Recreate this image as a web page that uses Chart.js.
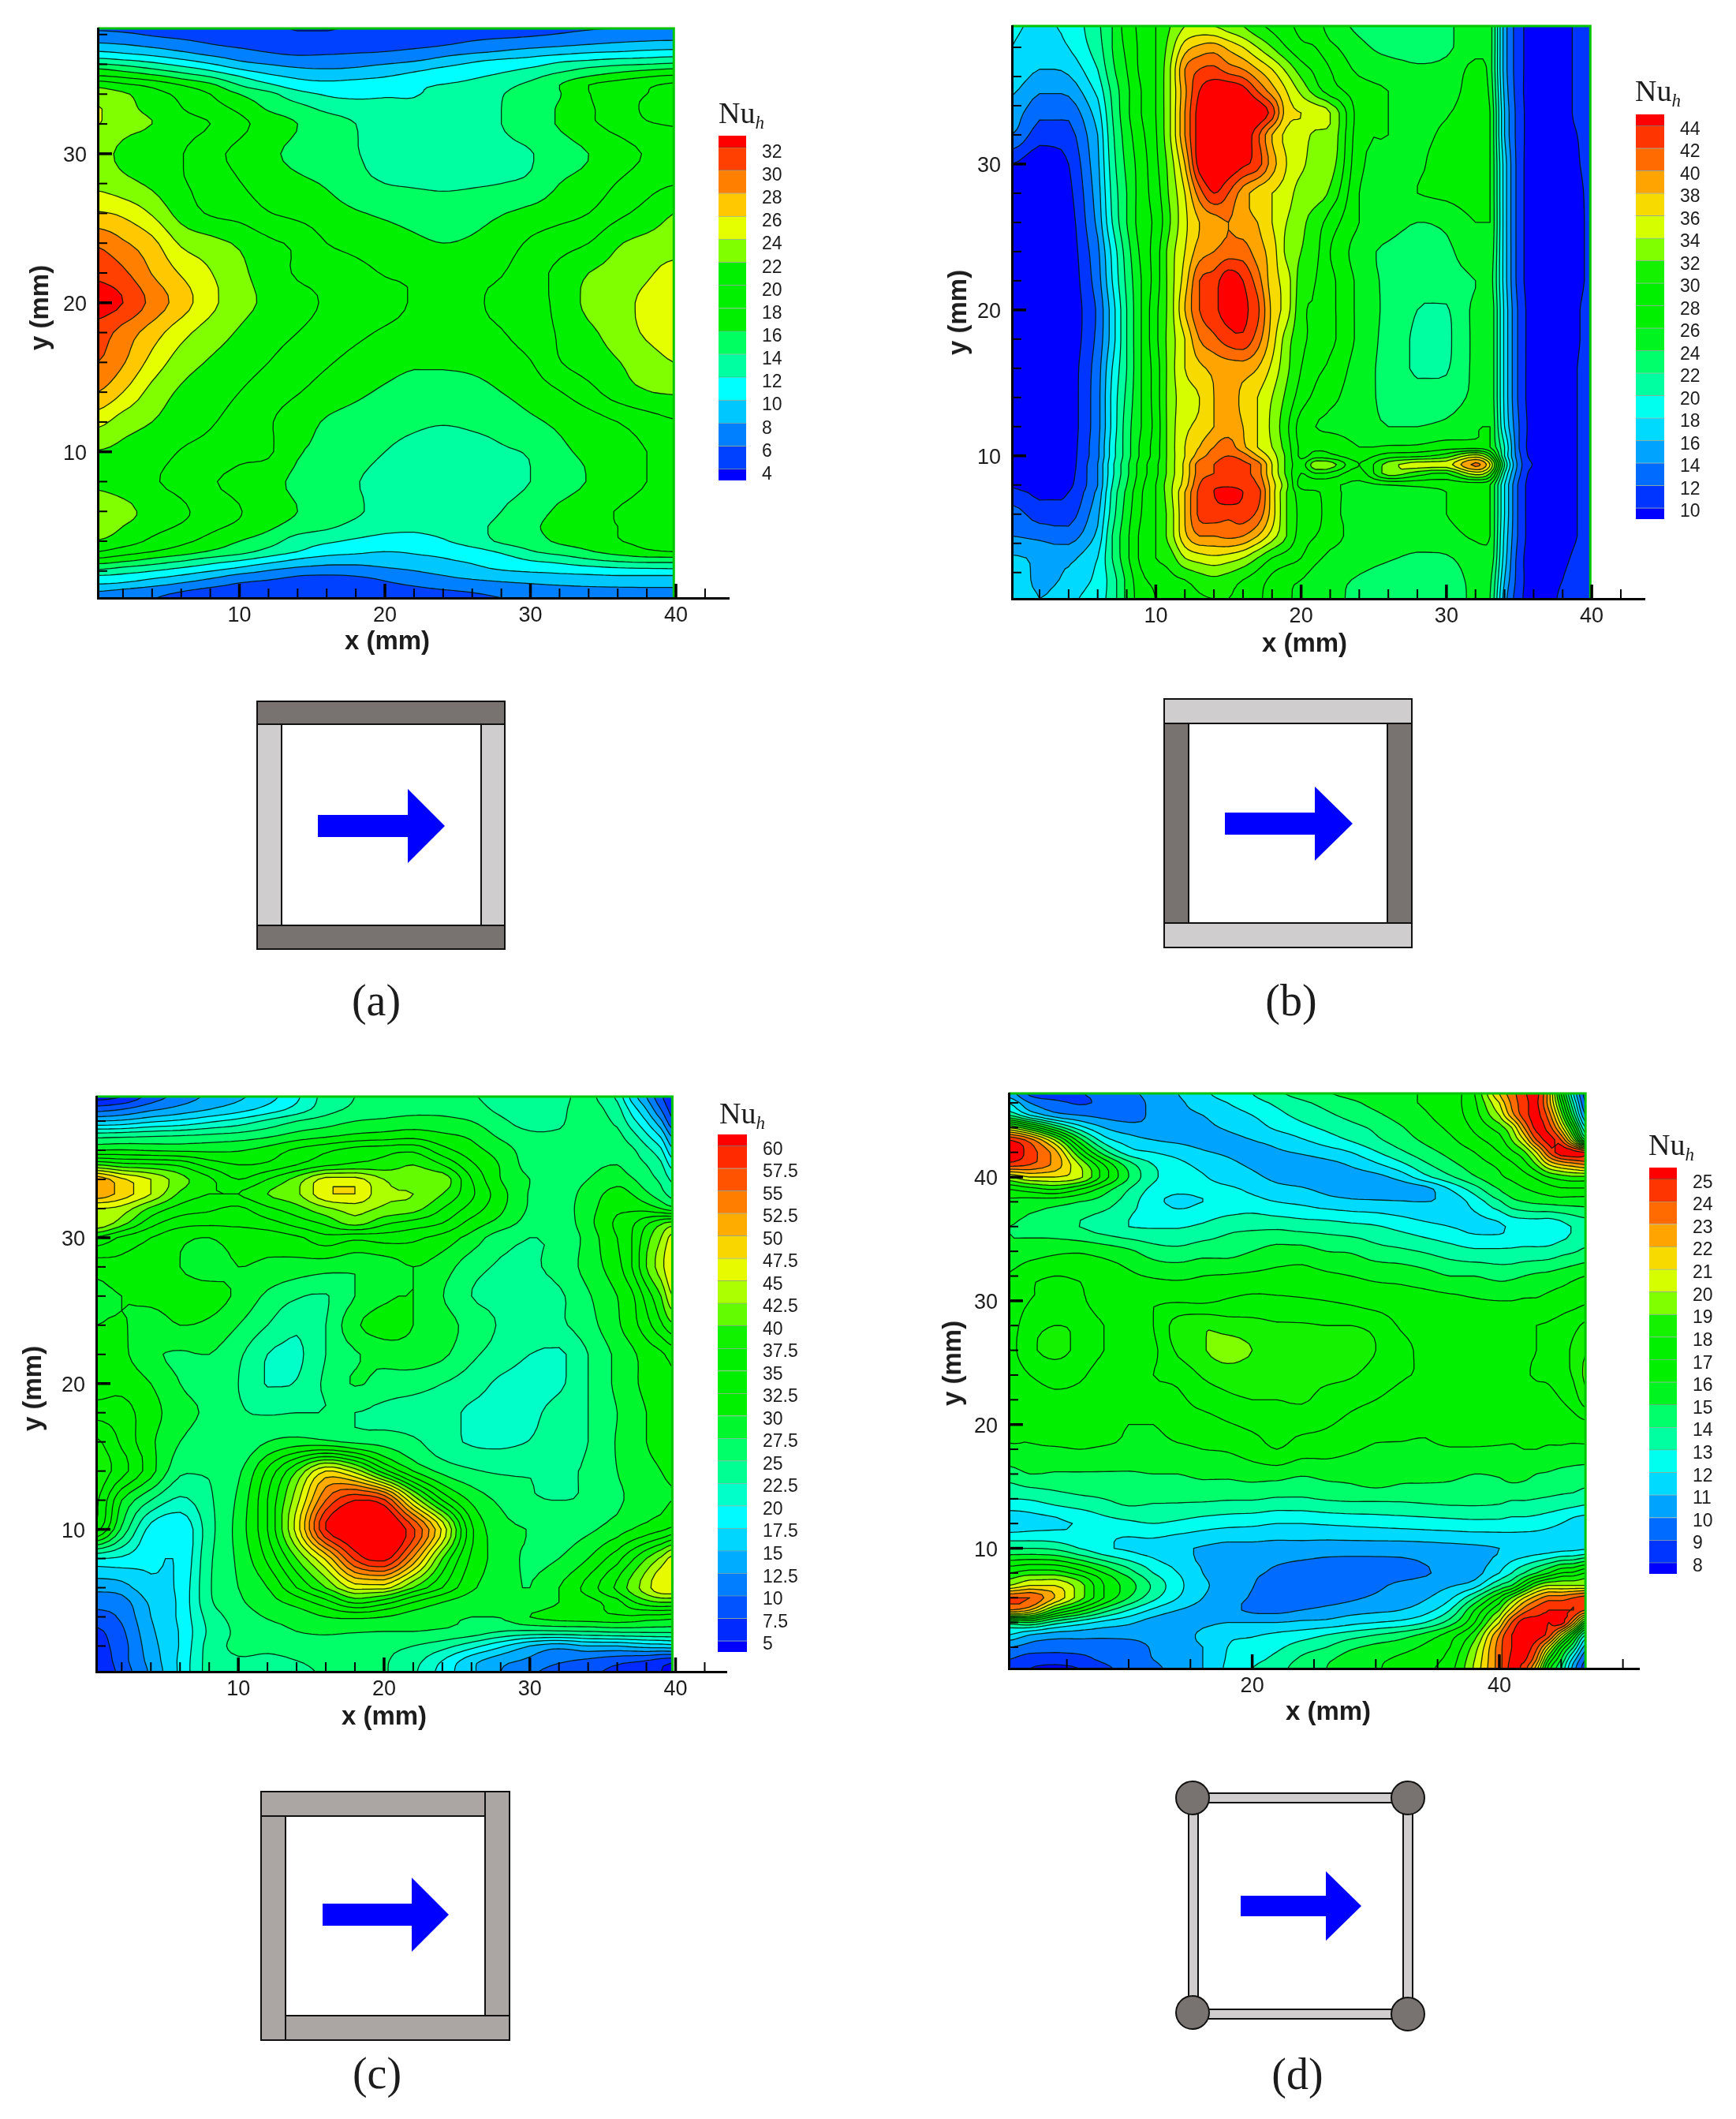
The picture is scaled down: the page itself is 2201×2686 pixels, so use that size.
<!DOCTYPE html>
<html>
<head>
<meta charset="utf-8">
<title>Nu_h contours</title>
<script src="https://cdn.jsdelivr.net/npm/chart.js@4"></script>
<style>
html, body { margin: 0; background: #fff; }
#page { position: relative; width: 2201px; height: 2686px; overflow: hidden; }
canvas { position: absolute; filter: blur(0.5px); }
svg { position: absolute; left: 0; top: 0; }
.lbl { position: absolute; white-space: nowrap; color: #1c1c1c; transform: translate(-50%, -50%); }
.axis { font: bold 33px "Liberation Sans"; }
.rot { transform: translate(-50%, -50%) rotate(-90deg); }
.cap { font: 56px "Liberation Serif"; }
.nu { font: 38px "Liberation Serif"; transform: none; line-height: 1; }
.nu i { font-size: 23px; position: relative; top: 7px; }
</style>
</head>
<body>
<div id="page">
  <canvas id="chartA"></canvas><canvas id="barA"></canvas>
  <canvas id="chartB"></canvas><canvas id="barB"></canvas>
  <canvas id="chartC"></canvas><canvas id="barC"></canvas>
  <canvas id="chartD"></canvas><canvas id="barD"></canvas>

  <div class="lbl axis" style="left:491px;top:812px">x (mm)</div>
  <div class="lbl axis rot" style="left:50px;top:390px">y (mm)</div>
  <div class="lbl axis" style="left:1654px;top:815px">x (mm)</div>
  <div class="lbl axis rot" style="left:1214px;top:396px">y (mm)</div>
  <div class="lbl axis" style="left:487px;top:2175px">x (mm)</div>
  <div class="lbl axis rot" style="left:41px;top:1760px">y (mm)</div>
  <div class="lbl axis" style="left:1684px;top:2169px">x (mm)</div>
  <div class="lbl axis rot" style="left:1207px;top:1728px">y (mm)</div>

  <div class="lbl nu" style="left:911px;top:124px">Nu<i>h</i></div>
  <div class="lbl nu" style="left:2073px;top:96px">Nu<i>h</i></div>
  <div class="lbl nu" style="left:912px;top:1392px">Nu<i>h</i></div>
  <div class="lbl nu" style="left:2090px;top:1432px">Nu<i>h</i></div>

  <div class="lbl cap" style="left:477px;top:1268px">(a)</div>
  <div class="lbl cap" style="left:1637px;top:1268px">(b)</div>
  <div class="lbl cap" style="left:478px;top:2628px">(c)</div>
  <div class="lbl cap" style="left:1645px;top:2629px">(d)</div>

  <svg width="2201" height="2686">
    <g stroke="#111" stroke-width="2">
      <!-- a -->
      <rect x="326" y="918" width="31" height="255" fill="#cfcdce"/>
      <rect x="610" y="918" width="30" height="255" fill="#cfcdce"/>
      <rect x="326" y="889" width="314" height="29" fill="#787370"/>
      <rect x="326" y="1173" width="314" height="30" fill="#787370"/>
      <!-- b -->
      <rect x="1476" y="917" width="31" height="253" fill="#787370"/>
      <rect x="1759" y="917" width="31" height="253" fill="#787370"/>
      <rect x="1476" y="886" width="314" height="31" fill="#cfcdce"/>
      <rect x="1476" y="1170" width="314" height="31" fill="#cfcdce"/>
      <!-- c -->
      <rect x="331" y="2271" width="284" height="31" fill="#aba6a4"/>
      <rect x="615" y="2271" width="31" height="284" fill="#aba6a4"/>
      <rect x="362" y="2555" width="284" height="31" fill="#aba6a4"/>
      <rect x="331" y="2302" width="31" height="284" fill="#aba6a4"/>
      <!-- d -->
      <rect x="1512" y="2273" width="273" height="12" fill="#cfcdce"/>
      <rect x="1512" y="2547" width="273" height="12" fill="#cfcdce"/>
      <rect x="1507" y="2279" width="12" height="272" fill="#cfcdce"/>
      <rect x="1779" y="2279" width="12" height="274" fill="#cfcdce"/>
      <circle cx="1512" cy="2279" r="21" fill="#787370"/>
      <circle cx="1785" cy="2279" r="21" fill="#787370"/>
      <circle cx="1512" cy="2551" r="21" fill="#787370"/>
      <circle cx="1785" cy="2553" r="21" fill="#787370"/>
    </g>
    <g fill="#0000ff">
      <polygon points="403,1033 517,1033 517,1000 564,1047 517,1094 517,1061 403,1061"/>
      <polygon points="1553,1030 1667,1030 1667,997 1715,1044 1667,1091 1667,1058 1553,1058"/>
      <polygon points="409,2413 522,2413 522,2380 569,2427 522,2474 522,2441 409,2441"/>
      <polygon points="1573,2403 1681,2403 1681,2372 1726,2416 1681,2460 1681,2429 1573,2429"/>
    </g>
  </svg>
</div>

<script>
// Panel (a)
var xsA = [0.27,2,4,6,8,10,12,14,16,18,20,22,24,26,28,30,32,34,36,38,39.85];
var ysA = [38.41,37.8,37.2,36.7,36.2,35.7,35.2,34.6,34,33,32,30,28,26,24,22,20,18,16,14,12,10,8,6,5,4,3.3,2.7,2.2,1.7,1.2,0.7,0.19];
var levelsA = [4,6,8,10,12,14,16,18,20,22,24,26,28,30,32];
var xTicksA = [10,20,30,40];
var yTicksA = [10,20,30];
var nuA = [
[5.8,5.6,5.3,5,4.8,4.5,4.3,3.9,3.9,4.2,4.4,4.6,4.9,5.1,5.3,5.5,5.7,5.9,6,6.1,6.2],
[7,6.8,6.2,5.8,5.4,5,4.7,4.4,4.4,4.6,4.8,5.1,5.4,5.7,5.9,6.1,6.4,6.8,7.2,7.4,7.5],
[8.7,8.4,7.8,7,6.3,5.8,5.3,5,5,5.2,5.4,5.7,6.1,6.6,7.2,7.6,8,8.4,8.7,9,9.2],
[10.7,10.2,9.5,8.6,7.6,6.9,6.2,5.8,5.9,6.1,6.3,6.8,7.5,8.1,8.6,9.3,9.8,10.3,10.6,11,11.2],
[13,12.5,11.7,10.6,9.4,8.1,7.4,7,7,7.2,7.5,8,8.8,9.8,10.5,10.9,11.8,12.3,12.8,13,13.4],
[16,15.2,14,12.8,11.5,9.9,8.9,8.2,8,8.2,8.8,9.5,10.3,11,11.5,12.2,13.2,14.3,15,15.6,16],
[18.2,17.6,16.6,15.2,13.8,12,10.5,9.6,9.3,9.5,9.9,10.6,11,11.7,12.4,13.4,14.8,16,17,17.8,18.3],
[21.5,20.5,19.5,18,16.5,14,12.4,11,10.6,10.8,11.2,11.7,12.1,12.6,13.4,14.5,16,18,19,19.7,20.4],
[23,22.3,20.8,19.5,18,16,14.6,12.8,11.8,11.5,11.8,11.9,12.5,13.2,13.9,15,15.9,17.9,19.3,20,20.4],
[24.2,22.6,21.5,20.1,18.9,17.6,15.8,14.8,13.6,13.1,12.7,12.4,12.9,13.6,14,15,16.2,17.7,19,20.3,20.8],
[24.1,22.6,22,20.8,20,18.5,17.2,16,15,14,13,12.6,13,13.4,14,15,16.2,17.6,18.7,19.8,20.1],
[22.6,21.6,20.8,20.1,18.6,17.5,16.4,15.5,14.8,14.1,13.4,13,13,13.2,13.6,13.9,15,16,17,18.2,19],
[23.5,22.6,21.6,20.2,19.4,18.1,17,16.4,15.8,14.6,14,13.8,13.7,13.8,14,14.4,16,16.8,18.1,19.3,19.9],
[26.2,25.6,23.8,21.2,19.8,19.3,18.1,17.5,16.9,16.2,15.7,15.3,15,15.3,15.9,16.6,17.3,18,19.5,20.7,22],
[29.7,28.3,26.6,23.7,22.7,21.7,20.4,19.6,18,17.4,16.9,16.4,16,16.3,17,18.3,19.2,20,21.8,22.6,23],
[31.5,30.4,27.9,25.8,24.1,22.5,21,19.8,19.4,18.6,17.9,17.8,17.7,17.7,17.9,19.2,20.5,22,22.7,23.7,24.7],
[33,32,29.4,27,24.6,22.7,21.6,20.6,19.8,19.2,18.5,17.9,17.8,17.8,18.4,19.2,20.5,22.5,23.2,24.5,25],
[31,29.2,27,24.7,23,21.8,20.8,20,19.2,18.4,17.8,17.5,17.5,17.6,17.9,19,20.2,21.6,22.8,24.3,25],
[30,28.2,25.3,23,21.8,21,20,19,18.2,17.4,16.8,16.3,16.3,16.5,17,17.9,19.9,21,21.9,23,24],
[28,26,23.3,21.7,20.9,20,18.9,18.1,17.2,16.4,15.7,15.1,15.1,15.3,16,16.9,17.9,19.3,21,21.9,22.2],
[24.6,23,22,21,20.2,19.2,18.2,16.9,15.8,15.2,14.7,14.3,14.1,14.3,14.7,15.6,16.4,17.1,18,19,19.8],
[21.9,21.5,20.8,19.9,19.3,18.5,18.3,16.2,15.6,14.7,14,13.5,13.3,13.4,13.8,14.2,15.6,16.4,17.2,18,18.9],
[21.6,21,20.2,19.4,18.2,17.5,16.6,15.6,14.9,14.1,13.4,13,12.9,13,13.3,14,15,16.1,17,18,18.7],
[23.3,22.7,21.2,20.4,19,18.1,17,16,15.2,14.3,13.3,12.9,12.8,12.9,14,15,16.4,17.3,18.1,18.7,19],
[23,22,20.7,19.8,18.5,17.6,16.4,15.2,14.4,13.4,12.6,12.4,12.8,13.6,14.4,15.7,16.5,17.5,18,18.4,18.7],
[21.9,21,19.6,18.5,17.3,16,14.9,13,12.3,11.7,11.3,11.3,11.8,13,14.3,15.2,16.3,16.9,17.9,18.3,18.5],
[20,19,18,17,15.8,14.7,13.3,12,11,10.4,10,10.2,10.5,11.2,12.3,13.8,14.8,15.8,16.8,17.7,18],
[17.2,16.4,15.3,14.2,13,12,10.8,9.6,8.8,8.7,8.9,9.5,9.8,10.3,11,12,12.6,13.6,14.3,14.7,14.7],
[14.5,13.7,12.9,11.9,10.9,9.8,8.6,7.8,7.5,7.5,7.9,8.4,9,9.6,10.3,10.8,11.1,11.5,11.9,12.1,12.2],
[12,11.6,10.8,9.9,8.8,7.6,6.9,6.1,5.9,6.1,6.6,7.3,8,8.6,9,9.3,9.6,9.8,10,10,10],
[10.3,9.9,9,8,7,6,5.5,5,4.9,5.2,5.8,6.4,7,7.4,7.8,8.1,8.4,8.6,8.7,8.7,8.7],
[8.2,7.7,7,6.2,5.5,5,4.6,4.3,4.3,4.6,5,5.5,5.9,6.2,6.6,7,7.2,7.4,7.5,7.6,7.6],
[7,6.7,6.1,5.4,4.9,4.5,4.2,4,4,4.3,4.6,5,5.4,5.7,6,6.3,6.5,6.6,6.7,6.8,6.8]
];

// Panel (b)
var xsB = [0.1,2,4,6,7,8,9,10,11,12,13,14,15,16,17,18,19,20,21,22,24,26,28,30,32,33,34,35,36,38,39,39.9];
var ysB = [39.46,38,36.5,35,33.5,32,30,28,26,24,22,20,18,16,14,12,10.6,10,9.4,8.8,8,7.5,6,4.5,3,1.5,0.2];
var levelsB = [10,12,14,16,18,20,22,24,26,28,30,32,34,36,38,40,42,44];
var xTicksB = [10,20,30,40];
var yTicksB = [10,20,30];
var nuB = [
[18.2,17.8,18.5,21.5,24,27,28.5,30,32,34,34.5,34,33,32,30.5,29.5,28.5,27.5,27,25,23.6,23,22.5,23.5,25.5,25,15,10.8,9,9,10.5,11],
[18,17,18,21,24,26.5,28.5,30,33,37,38.5,39,37.5,36,34,32,30,28.5,28,26.5,24.5,23.5,23.4,23.6,25.5,25,15,10.8,9,9,10.5,11],
[17.6,16,16.5,20,23.5,26,28.5,30,34,40,42,42.5,41,40,38,36,33.5,31,29.5,28,25.5,24.8,24.2,24.6,26.5,25,15,10.8,9,9,10.5,11],
[16.3,14.2,14.5,18.5,22.5,25.5,28,30,34,39.5,44,45.5,46,45,42,39,36,33.5,31,29,27,26,25,24.9,27,25.5,15.5,10.8,9,9,10.5,11],
[15,12.5,12.5,17,22,25.5,28,30,34,40,45,47,47,47,46,43,37,36,35.5,34,27,26,25.6,25.8,27.3,26,16,11,9,9,10.5,11],
[14,10.9,11.2,16,21.5,25,27.5,29.8,34,40,45,46.5,47,46,42.5,38,35.5,35,33.5,33.5,26.8,26,25.3,26.5,27,26,16,11,9,8.8,10,10.6],
[10,8.5,10,15.5,21,24.5,27,29.5,33,38,45,46.5,46,44.5,43,39,36,34.5,33,33,26.5,25.5,25.5,27.5,27.5,26,17,11,9,8.5,9.8,10.5],
[8.5,8,9.4,15,20.5,24,27,29,32.5,36,41,44,42,39,37,36,35,33,32.8,31.5,26,25,26,26.5,27,26,17,11,9,8.5,9.5,10.4],
[8.5,8,9,14.5,20,24,27,28.5,32,35.5,38,39,40,39,38,36,34,32.5,31,29,26,25,24,24.5,26,26,17,11,9,8.5,9.5,10.3],
[8.5,8,8.8,13.5,18.5,23,26.5,29,33,36,39,40,41,41,39,37,33.5,32,30.5,28,25,23.5,22.8,23.5,25.5,25.5,17,11,9,8.5,9.5,10.3],
[8.5,8,8.6,13,18,22.5,26,29,33,37,42,43,45.5,44,41,37,35,31,30,28.5,25.5,23.5,22.8,23,24,25,17,11,9,8.5,9.5,10.3],
[8.5,8,8.5,12.3,17,22,26,29.5,33,38,42,43.5,45,44.5,42.5,37.5,35,30.5,29.8,28.5,25.5,23.5,22,21.8,24.5,25.5,17.5,11.5,9,8.5,9.8,10.5],
[8.5,8,8.5,12.5,17,22,26,29.5,33,36,40,41.5,43,43.5,41,37,33,30.5,29.5,28.5,25.5,23.3,21.7,21.6,24.5,25.5,17.5,11.5,9,8.5,9.8,10.5],
[8.5,8,8.8,13,18,22,26,29,33,36,37.5,38.5,39,39,38,35.5,32.5,30,28.5,27.5,25,23.3,21.7,21.8,24.5,25.5,17.5,11.5,9,8.6,10,10.5],
[8.5,8,8.8,13.2,18.5,22.5,26,29,33,35,36,38,39,37.5,36,34,31.5,29,27.5,26.5,24.8,23.5,22.8,23,24.5,25.5,17.5,11.5,9,8.7,10,10.5],
[8.5,8,8.8,13.2,18.5,23,26,28.8,33,35.5,36.5,38,39,38,36,33.5,30.5,27,26,25.6,25,24,24,24.5,25.6,26,18,12,9,8.8,10,10.6],
[8.5,8,8.9,13.5,19,23,26.5,29,33,36,38,40,41,38.5,36,34,31,27.5,27.5,27.5,26,26.2,26.3,27,27,26,20,12,9,8.8,10,10.6],
[8.5,8,9,13.5,19,23,26.5,29,33,36,39,41,42,41,38,35,31.5,27.5,29,28.5,27,29,29.5,31,35,31,20,12.5,9,8.8,10,10.6],
[8.5,8,9,14,19.5,23.5,27,29.5,33,36.5,41,42,43,42.5,41,36,31.5,29,33.5,33,28,33,35,35,40.5,36,22,13,9.8,8.8,10,10.6],
[9,8.5,9.2,14,19.5,23.5,27,29.5,33,36.5,41,42,43,42.5,41,36,31.5,28,30,29.5,27,33,31,30,35,32,20,12.5,9,8.8,10,10.6],
[9.8,9,9.5,14,20,24,27.5,30,33.5,37,42,43.5,43.5,43,42,37,32.5,27,26.5,26.3,25.5,26,26.5,26.7,26.7,26,18,11.5,9,8.8,10,10.6],
[10.6,9.6,10,14.5,20.5,24.5,27.8,30,33.5,38,42.5,44,45.5,44,43,37,32,29,28.5,26.5,25.5,25.5,25.3,26,26.8,26,18,11.5,9,8.8,10,10.6],
[13,11,11,15.5,21,25,28,30,33,38,42.5,43,42.5,43,41.5,37,32,29.5,29,26.5,25.5,25.5,25,26,27,26,18,11.5,9,8.8,10,10.6],
[14,13.5,13,16.5,22,25.5,28.5,30,33,37.5,40,40,40.5,40,38,35,32,29,28,26.7,25.3,25,24.7,25.2,26.3,26,17.5,11.5,9,9,10,10.6],
[16.3,15.7,15.5,18,22,25.5,28.5,30,31,34,35,35.5,35,34,32,30,29,28,26.5,25.5,24.8,24.2,23.7,23.8,25,25.5,17,11,9,9.5,10.5,11],
[17.5,15.5,16.5,18.5,21,24.5,27.5,28.5,29.5,30,31,31.5,31,30,29,27.5,26.5,26,25,24.5,23.8,23,22.5,23,24.5,24.5,16,11,9,10,11,11.3],
[18,16,17.5,19,21,24.5,27,28,29,29.5,29.8,30,30,29.5,28.5,27,26.3,25.5,25,24.5,23.5,22.8,22,22.5,24.5,24,15,10.7,9,10.3,11.3,11.5]
];

// Panel (c)
var xsC = [0.25,2,4,6,8,10,12,14,16,18,20,22,24,26,28,30,32,34,36,37,38,39,39.78];
var ysC = [39.68,38.8,38,37,36,35,34,33,32,31,30,28,26,24,22,20,18,16,14,12,10,8,6,5,4,3,2,1,0.24];
var levelsC = [5,7.5,10,12.5,15,17.5,20,22.5,25,27.5,30,32.5,35,37.5,40,42.5,45,47.5,50,52.5,55,57.5,60];
var xTicksC = [10,20,30,40];
var yTicksC = [10,20,30];
var nuC = [
[4,5,8.5,11,13,14.5,16.5,19.5,23.5,25,25.4,25.6,25.8,25.2,24.2,24,24.3,25.6,22,16.5,12.5,8,5.5],
[9,10,12,13.5,15,16.5,18.5,21,24,25.5,26.3,26.7,26.8,26,24.5,23.8,24.5,26,23.5,19,15,10,6.5],
[15,15.5,17,18,19.5,21,23,25,26.3,27.5,28,28.5,28.2,27.5,25.5,24,24.7,26,24.5,21,17.5,13,8],
[24,24.3,24.7,25,25.5,26,27,28.5,29.5,30.5,31,31.5,30.5,29.5,27,25.5,25.3,25.4,25.6,23.5,20.5,17,12],
[30,30.2,29.8,29.5,29.5,29.8,31,33,34.5,36,36.5,37,33.5,31,28.8,26.3,26,26,26,25.4,23.3,20.5,15.5],
[40,38.5,38,37,34,32.5,33,35,37,38,38.5,40,37.5,33,29.8,26.5,26,26.8,27.5,26,25,23,19],
[52,48,45,41,38,35,37.5,41,46,46,42.5,41,41.5,35,30,27.5,26.3,27.5,29,27.8,26,24.5,22],
[52,49,45,39.5,37.5,37.5,40,42,47,47.5,43,42.5,40,35.5,31,27.3,26.3,28.5,31,30,28,26,24],
[45,44,39.5,36.5,35.5,34.5,37,39,42,43.5,42,41,37.5,34,30.5,27.2,26.3,29,32,32,31.5,30,28.5],
[45,41,36,33.5,33,33,34,36,38,41,38,36.5,35,31.5,29,26.5,25.8,29.2,33,34.5,37,39.5,41],
[37,34.5,32.5,30.5,30,31,31,32,34,33,33.5,33,31.5,29,26,25,25.2,28.5,32.5,35,39,42.5,46],
[31,31.5,30.5,30,29,30,29.5,29,28.5,28,28.5,30,28.7,26,24.7,24.7,25.8,28.5,31.5,35,40,44,47.5],
[29.5,30,30.5,30.8,31,29.5,27,25.3,24.8,27.5,29.5,30,27.6,25,24.5,24.3,24.6,27.2,30,32,36,40,45],
[30,30.2,29,30,29.5,27.5,25,23,25,29.5,31,30,28.7,26.5,24.8,24.6,24.6,26.5,29.5,31.5,34,37,39.5],
[30.8,30.5,28,27.2,27.5,25.5,22.5,22,25,27.2,28.5,29,28,25.5,24,22.5,22,25,28,29.5,31,32,33.5],
[31,31.7,30,27.5,26.5,25,22.3,22.7,25.5,27.7,26.5,26,25,23.7,22,21.5,22,25,28,29.5,30.5,31,32],
[34,33.5,31,28.5,27,25.3,24.8,25,25,25,24.5,24,23.5,22,21.7,21.8,23.7,25,27.5,29,30,30.5,31],
[38,34.5,30.5,27.5,26,25.3,27.5,28.5,28,27,26.5,25.5,23.5,22.2,22,22.6,24.3,25,27.7,29,30,30.5,31],
[39,36,31,25.5,25.2,27,33,40,47.5,44,36,30,26.8,25.3,24.7,24.8,24.8,25.3,27.5,28.5,29.5,30,30.5],
[38,30,25,22,24.6,28,35,44,55,60,58,45,35,29.5,27,25.3,25,25.3,27,28,29,29.5,30],
[36,27,19,17.5,24,28.5,35,46,60,63,64,58,47,33,28.5,27.4,26.3,27,28.8,30,31,32,33],
[20,19.5,18,17.5,24.5,28,33,40,48,58,61,52,40,32,29,27,27.5,30,34,37,40,43,46],
[13.5,14,17,18,24.7,27.5,30,35,40,46,46,40,35,30.5,28.5,27.5,30,33.5,38,41,44,47,47.5],
[11,11.5,15.5,18,24.5,27,29,31,34,38,36,32.5,30,28.5,27.5,27.5,30,31.5,34,37,39,40,40],
[9,10.5,15,18,23.5,26,27.7,28.5,30,30.5,30,28.7,28,27.5,27.6,30,31,31.5,32,32,31.5,31.3,31],
[7,9.5,14.5,17.7,23,25.5,26.5,27.5,28,27.7,27.5,27.5,27.2,26.5,25,24.5,24.7,25,25.5,25.6,25.6,25.6,25.6],
[6.5,9,14,17.7,23.5,25.5,25.6,26,26,25.7,25.6,25,23.5,21,18,15,13.5,15,15,15.5,16,16.2,16.5],
[5.5,9,13.5,18,23.5,24.8,24.5,25,25.5,25.4,25.2,23.5,20,16,13.5,12,10.5,9.5,8.5,8,7.5,6.5,6],
[5,8.5,13,18,23.5,24.5,24.2,24.6,25.2,25.4,25.2,23,19,15.5,12.5,10.5,9,8,7,6.5,6,5,4.5]
];

// Panel (d)
var xsD = [0.3,2,4,6,8,10,12,14,16,18,20,22,24,26,28,30,32,34,36,38,40,41,42,43,44,45,46,46.97];
var ysD = [46.76,46,45,44,43,42,41,40,39,38,36,34,32,30,28,26,24,22,20,18,16,14,12,10,8,7,6,5,4,3,2,1,0.28];
var levelsD = [8,9,10,11,12,13,14,15,16,17,18,19,20,21,22,23,24,25];
var xTicksD = [20,40];
var yTicksD = [10,20,30,40];
var nuD = [
[10.5,8.8,8.5,8.9,9.4,9.8,10.3,11,11.8,12.4,13,13.8,14.4,14.9,15.3,15.5,15.8,16.1,16.5,18,22,23.5,24.8,25.3,22.5,17,12,8.5],
[12,10,9.3,8.9,9.2,9.6,10.2,10.8,11.5,12,12.6,13.2,13.8,14.3,14.8,15.3,15.8,16.1,16.6,17.8,21,23.2,24.6,25.2,22.5,18,13,9],
[14,12,10.5,10,9.7,9.6,10.2,10.7,11,11.5,12,12.7,13.3,13.8,14.3,14.8,15.4,15.9,16.5,17.6,20,22.5,24.5,25.3,23.5,19.5,14.5,10],
[20,18,15,12.5,11,10.4,10.2,10.4,10.8,11.1,11.5,12.2,12.7,13.2,13.7,14.2,14.9,15.6,16.2,17.2,18.5,20,23,25.3,24.5,21.5,17,12],
[25,23.5,20,15.5,12.5,11.5,11,10.8,10.7,10.8,11,11.3,11.9,12.5,13.1,13.8,14.5,15.2,15.8,16.7,17.6,19,21,24,25.3,24,20,15],
[26,24.5,22.5,18,14.5,12.5,12,11.6,11.1,10.9,10.8,10.9,11.1,11.5,12,12.9,13.8,14.6,15.3,16,17,17.8,18.8,21,24,25.6,25.5,25],
[24.5,24,22.7,20,17,14.5,13,12.3,11.7,11.2,10.9,10.7,10.6,10.7,11.1,11.8,12.7,13.8,14.7,15.5,16.2,16.8,17.6,19,21,22,22.5,23],
[20,21,21,20.3,17.5,15,13.2,12.5,12.1,11.5,11.2,10.8,10.7,10.6,10.6,10.7,11.4,12.7,13.8,14.9,15.8,16.2,16.6,17.2,18,18.5,18.8,18.8],
[17,17.5,18,17,15.5,14,12.7,12.2,12.3,12.2,11.8,11.3,11.1,10.8,10.5,10.3,10.3,10.6,12,13.5,15,15.5,15.9,16.2,16.5,16.8,16.8,16.8],
[15.7,15.5,15.3,15,14.5,13.5,12.3,11.8,12,12.2,12.4,12,11.8,11.5,11.3,11.2,11.1,11,11.3,12.4,13.8,14.6,15,15.2,15.3,15.4,15.4,15.4],
[15,14.8,14.5,14,13.5,13,12.9,12.9,13.2,13.7,13.8,13.8,13.6,13.5,13.3,13.1,12.7,12.3,12,11.7,11.8,12.2,12.3,12.3,12.2,12.6,13.1,13.5],
[15.2,15.5,15.8,15.9,15.6,15.2,14.5,14.3,14.6,14.6,15,15.4,15.4,15,14.9,14.4,14.2,13.9,13.5,13.2,13.2,13.2,13.3,13.3,13.4,13.7,13.9,14.2],
[16.1,16.8,17,16.9,16.6,16.2,15.9,15.8,16,16.1,16.2,16.3,16.4,16.2,16,15.8,15.7,15.4,15,15,14.7,14.8,15,15.2,15.3,15.5,15.8,16],
[16.3,17,17.1,17.2,16.4,16.7,16.9,16.9,16.8,17.1,17.3,17.2,17.1,17,16.8,16.5,16.4,16.4,16.3,16.1,16,16,16.1,16.1,16.3,16.5,16.6,16.8],
[16.5,17.6,18,17.8,17,16.5,17,18.5,18.9,18.5,18.3,18.1,18.1,18,18,17.7,16.9,16.7,16.6,16.6,16.5,16.7,16.8,17,17.1,17.3,17.7,18.2],
[16.6,17.8,18.2,17.8,17,16.7,16.8,18.2,18.9,19.5,19,18.3,18.5,18.6,18.7,18,17.3,16.8,16.7,16.6,16.6,16.7,16.8,17,17.2,17.6,18.2,18.9],
[16.3,17,17.5,17.2,16.5,16.5,17,17.3,18.1,18.4,18.3,18.2,18.1,18.2,18.1,17.5,17.1,16.9,16.7,16.7,16.8,16.8,16.9,17.1,17.2,17.7,18.1,19.2],
[16,16.3,16.7,16.6,16.4,16.5,16.6,16.8,17.4,17.8,18,18,18.1,17.7,17.3,17,16.7,16.5,16.6,16.6,16.7,16.6,16.5,16.5,16.6,17,17.5,18.5],
[16,16.1,16.6,16.4,16.4,16,16,16.5,16.5,16.9,17.2,17.3,17.3,17.1,16.7,16.4,16.2,16.2,16.9,16.8,16.4,16.3,16.2,16.2,16.3,16.3,16.5,16.7],
[15.9,15.9,15.9,16,15.9,15.8,15.6,15.8,16,16.1,16.5,17,16.5,16.4,16.1,15.9,15.9,15.8,15.9,15.9,15.9,15.9,16,16,15.9,15.9,15.8,15.8],
[14.5,15,14.9,14.9,14.9,14.9,15,15,15.2,15.2,15.4,15.4,15.1,15.3,15.4,15.8,15.4,15.3,15.2,15,15.1,15.4,15.3,15,14.9,14.7,14.6,14.5],
[13,13.1,13.5,13.8,14,14.4,14.2,14.2,14.2,14.1,14.1,13.9,13.9,14.1,14.2,14.2,14.2,14.3,14.4,14.4,14.3,14.1,14.1,14,13.9,13.8,13.7,13.5],
[11.4,11.6,11.8,12.1,12.6,12.8,13,12.8,12.5,12.3,12.2,12,12,12.1,12.2,12.3,12.4,12.5,12.6,12.7,12.7,12.6,12.6,12.5,12.3,12,11.6,11.4],
[14,14,13.8,13,12.2,11.8,11.6,11.2,10.9,10.7,10.7,10.6,10.6,10.5,10.5,10.5,10.5,10.6,10.7,10.8,11,11.3,11.3,11.4,11.4,11.5,11.6,11.8],
[18,18.5,18.5,17.5,16,14.5,13,12,11,10.5,10.2,9.8,9.5,9.3,9.2,9.3,9.5,9.9,10.3,10.6,12,13,14,15,16,17,17.2,18],
[20,21,21,19.5,17,15.5,13.8,12.3,11.2,10.6,10.05,9.4,9.2,9.2,9.2,9.7,10.3,10.6,10.9,11.6,14,15,17,19,20,20,20,20],
[24,24,22,19.5,17,15,13.3,12,11,10.4,9.9,9.3,9.3,9.5,9.8,10.2,10.6,10.9,11.8,14,17,19,21,22.5,23.5,23.5,24,24.5],
[23,22,18.5,16.5,14.5,13,11.8,11,10.6,10.3,9.8,9.7,10,10.3,10.6,10.8,11,11.6,13,16,19,21.5,23.5,24.5,25,25,25,24],
[14.5,15,13.5,12.5,11.7,11.2,10.5,10.1,10.7,11,11,11,11.2,11.3,11.7,12,12.3,13,14.5,17,21,24,25.5,25.3,25,25.5,22.5,18],
[12,11,10.5,10.4,10.3,10.3,10.3,10.3,11.3,11.8,11.9,12.2,12.5,13,13.5,14,14.5,15.3,16.5,18.5,23,25,25.3,25.5,24.5,21,17,13],
[10,9.6,9.4,9.4,9.4,9.6,10.1,10.6,11,12,12.3,12.8,13.5,14,14.8,15.3,15.6,16.2,17,19.5,23.5,25,25.5,24.3,21,17,14,10.5],
[9,8.5,8.5,8.7,9.2,9.8,10,10.3,11,12.1,12.7,13.3,14.2,14.8,15.5,15.8,16.2,16.6,17.4,20,23.5,25.2,25.2,23,18,15,11.5,9],
[8.6,8,7.7,8,8.7,9.5,9.9,10.2,11,12.2,13,13.6,14.5,15,15.7,15.9,16.4,16.8,17.6,20.2,23.5,25.3,24.5,21.5,16.5,14,10.5,8.5]
];

Chart.defaults.animation = false;
Chart.defaults.font.family = "Liberation Sans";

// colours of the rainbow table, t from 0 to 1
var stops = [
  [0, 0, 0, 255], [0.067, 0, 64, 255], [0.133, 0, 128, 255], [0.2, 0, 200, 255], [0.267, 0, 255, 255],
  [0.333, 0, 255, 160], [0.4, 0, 255, 96], [0.467, 0, 240, 0], [0.6, 0, 240, 0], [0.667, 128, 255, 0],
  [0.733, 230, 255, 0], [0.8, 255, 200, 0], [0.867, 255, 128, 0], [0.933, 255, 64, 0], [1, 255, 0, 0]
];

function bandColors(levels) {
  var out = [];
  for (var k = 0; k <= levels.length; k++) {
    var t = k / levels.length, i = 0;
    while (i < stops.length - 2 && t > stops[i + 1][0]) i++;
    var a = stops[i], b = stops[i + 1], f = (t - a[0]) / (b[0] - a[0]);
    out.push("rgb(" + Math.round(a[1] + (b[1] - a[1]) * f) + "," + Math.round(a[2] + (b[2] - a[2]) * f) + "," + Math.round(a[3] + (b[3] - a[3]) * f) + ")");
  }
  return out;
}

// catmull-rom between two samples, held inside them so no fake rings appear
function cr(p0, p1, p2, p3, u) {
  var v = 0.5 * (2 * p1 + (p2 - p0) * u + (2 * p0 - 5 * p1 + 4 * p2 - p3) * u * u + (3 * p1 - p0 - 3 * p2 + p3) * u * u * u);
  return Math.max(Math.min(p1, p2), Math.min(Math.max(p1, p2), v));
}

function fineAxis(a, n) {
  var out = [];
  for (var i = 0; i < a.length - 1; i++) for (var s = 0; s < n; s++) out.push(a[i] + (a[i + 1] - a[i]) * s / n);
  out.push(a[a.length - 1]);
  return out;
}

function fineLine(a, n) {
  var out = [], m = a.length;
  for (var i = 0; i < m - 1; i++) {
    for (var s = 0; s < n; s++) {
      out.push(cr(a[Math.max(i - 1, 0)], a[i], a[i + 1], a[Math.min(i + 2, m - 1)], s / n));
    }
  }
  out.push(a[m - 1]);
  return out;
}

function fineGrid(rows, n) {
  var across = rows.map(function (r) { return fineLine(r, n); });
  var cols = [];
  for (var c = 0; c < across[0].length; c++) {
    cols.push(fineLine(across.map(function (r) { return r[c]; }), n));
  }
  return cols; // cols[c][r]
}

// contour fill and iso lines, positions come from the chart's own scales
function contourPlugin(xs, ys, rows, levels, minorX, minorY, xTicks, yTicks) {
  var n = 4;
  var gx = fineAxis(xs, n), gy = fineAxis(ys, n), g = fineGrid(rows, n);
  var colors = bandColors(levels);
  return {
    id: "contour",
    beforeDatasetsDraw: function (chart) {
      var ctx = chart.ctx, sx = chart.scales.x, sy = chart.scales.y;
      var px = gx.map(function (v) { return sx.getPixelForValue(v); });
      var py = gy.map(function (v) { return sy.getPixelForValue(v); });
      var c, r, k;
      ctx.save();
      ctx.fillStyle = colors[0];
      ctx.fillRect(px[0], py[0], px[px.length - 1] - px[0], py[py.length - 1] - py[0]);
      for (k = 0; k < levels.length; k++) {
        var L = levels[k];
        ctx.beginPath();
        for (c = 0; c < px.length - 1; c++) {
          for (r = 0; r < py.length - 1; r++) {
            var poly = [[px[c], py[r], g[c][r]], [px[c + 1], py[r], g[c + 1][r]], [px[c + 1], py[r + 1], g[c + 1][r + 1]], [px[c], py[r + 1], g[c][r + 1]]];
            var pts = [];
            for (var i = 0; i < 4; i++) {
              var a = poly[i], b = poly[(i + 1) % 4];
              if (a[2] >= L) pts.push(a);
              if ((a[2] >= L) !== (b[2] >= L)) {
                var f = (L - a[2]) / (b[2] - a[2]);
                pts.push([a[0] + (b[0] - a[0]) * f, a[1] + (b[1] - a[1]) * f]);
              }
            }
            if (pts.length > 2) {
              ctx.moveTo(pts[0][0], pts[0][1]);
              for (i = 1; i < pts.length; i++) ctx.lineTo(pts[i][0], pts[i][1]);
              ctx.closePath();
            }
          }
        }
        ctx.fillStyle = colors[k + 1];
        ctx.fill();
      }
      // iso lines
      ctx.beginPath();
      for (k = 0; k < levels.length; k++) {
        L = levels[k];
        for (c = 0; c < px.length - 1; c++) {
          for (r = 0; r < py.length - 1; r++) {
            poly = [[px[c], py[r], g[c][r]], [px[c + 1], py[r], g[c + 1][r]], [px[c + 1], py[r + 1], g[c + 1][r + 1]], [px[c], py[r + 1], g[c][r + 1]]];
            pts = [];
            for (i = 0; i < 4; i++) {
              a = poly[i]; b = poly[(i + 1) % 4];
              if ((a[2] >= L) !== (b[2] >= L)) {
                f = (L - a[2]) / (b[2] - a[2]);
                pts.push([a[0] + (b[0] - a[0]) * f, a[1] + (b[1] - a[1]) * f]);
              }
            }
            for (i = 0; i + 1 < pts.length; i += 2) {
              ctx.moveTo(pts[i][0], pts[i][1]);
              ctx.lineTo(pts[i + 1][0], pts[i + 1][1]);
            }
          }
        }
      }
      ctx.strokeStyle = "rgba(0,25,10,0.9)";
      ctx.lineWidth = 1.3;
      ctx.lineCap = "round";
      ctx.stroke();
      ctx.restore();
    },
    afterDatasetsDraw: function (chart) {
      var ctx = chart.ctx, sx = chart.scales.x, sy = chart.scales.y;
      var right = sx.getPixelForValue(xs[xs.length - 1]), top = sy.getPixelForValue(ys[0]);
      var bottom = chart.chartArea.bottom, left = chart.chartArea.left;
      ctx.save();
      // green rim along top and right
      ctx.strokeStyle = "#00c400";
      ctx.lineWidth = 3;
      ctx.beginPath();
      ctx.moveTo(left, top);
      ctx.lineTo(right, top);
      ctx.lineTo(right, bottom);
      ctx.stroke();
      // inward ticks
      ctx.strokeStyle = "#000";
      var v, major;
      for (v = minorX; v < sx.max; v += minorX) {
        major = xTicks.indexOf(v) >= 0;
        ctx.lineWidth = major ? 3.5 : 2;
        ctx.beginPath();
        ctx.moveTo(sx.getPixelForValue(v), bottom);
        ctx.lineTo(sx.getPixelForValue(v), bottom - (major ? 18 : 12));
        ctx.stroke();
      }
      for (v = minorY; v < sy.max; v += minorY) {
        major = yTicks.indexOf(v) >= 0;
        ctx.lineWidth = major ? 3.5 : 2;
        ctx.beginPath();
        ctx.moveTo(left, sy.getPixelForValue(v));
        ctx.lineTo(left + (major ? 18 : 12), sy.getPixelForValue(v));
        ctx.stroke();
      }
      ctx.restore();
    }
  };
}

// pin the axis box, and drop the margin chart.js keeps for end labels
function pinBox(scale, key, size) {
  scale[key] = size;
  scale.paddingTop = scale.paddingBottom = scale.paddingLeft = scale.paddingRight = 0;
}

function drawPanel(id, xs, ys, rows, levels, xTicks, yTicks, box) {
  var canvas = document.getElementById(id);
  var padL = 80, padT = 10, padR = 10, padB = 50;
  canvas.width = box.right - box.left + padL + padR;
  canvas.height = box.bottom - box.top + padT + padB;
  canvas.style.left = (box.left - padL) + "px";
  canvas.style.top = (box.top - padT) + "px";
  var nodes = [];
  ys.forEach(function (y, r) {
    xs.forEach(function (x, c) { nodes.push({ x: x, y: y, v: rows[r][c] }); });
  });
  function setTicks(list) {
    return function (scale) { scale.ticks = list.map(function (v) { return { value: v }; }); };
  }
  function label(v) { return String(v); }
  new Chart(canvas, {
    type: "scatter",
    data: { datasets: [{ label: "Nu_h", data: nodes, pointRadius: 0, showLine: false }] },
    plugins: [contourPlugin(xs, ys, rows, levels, box.minorX, 2, xTicks, yTicks)],
    options: {
      responsive: false,
      devicePixelRatio: 1,
      layout: { padding: { left: 0, top: padT, right: padR, bottom: 0 } },
      plugins: { legend: { display: false }, tooltip: { enabled: false } },
      scales: {
        x: {
          type: "linear", min: box.xMin, max: box.xMax,
          grid: { display: false, drawTicks: false },
          border: { display: true, color: "#000", width: 3, z: 1 },
          ticks: { padding: 6, color: "#1c1c1c", font: { size: 27 }, maxRotation: 0, autoSkip: false, callback: label },
          afterBuildTicks: setTicks(xTicks),
          afterFit: function (s) { pinBox(s, "height", padB); }
        },
        y: {
          type: "linear", min: box.yMin, max: box.yMax,
          grid: { display: false, drawTicks: false },
          border: { display: true, color: "#000", width: 3, z: 1 },
          ticks: { padding: 14, labelOffset: 3, color: "#1c1c1c", font: { size: 27 }, autoSkip: false, callback: label },
          afterBuildTicks: setTicks(yTicks),
          afterFit: function (s) { pinBox(s, "width", padL); }
        }
      }
    }
  });
}

// colour bar, one floating bar per band
function drawBar(id, levels, step, box) {
  var canvas = document.getElementById(id);
  var padV = 20, axisW = 90;
  canvas.width = box.right - box.left + axisW;
  canvas.height = box.bottom - box.top + padV * 2;
  canvas.style.left = box.left + "px";
  canvas.style.top = (box.top - padV) + "px";
  var colors = bandColors(levels), low = levels[0] - step / 2, high = levels[levels.length - 1] + step / 2;
  var sets = colors.map(function (col, k) {
    return {
      data: [[k === 0 ? low : levels[k - 1], k === levels.length ? high : levels[k]]],
      backgroundColor: col,
      borderColor: "rgba(0,60,30,0.4)",
      borderWidth: k === levels.length ? 0 : { top: 1 },
      borderSkipped: false,
      grouped: false, barPercentage: 1, categoryPercentage: 1
    };
  });
  new Chart(canvas, {
    type: "bar",
    data: { labels: ["Nu_h"], datasets: sets },
    options: {
      responsive: false,
      devicePixelRatio: 1,
      layout: { padding: { top: padV, bottom: padV } },
      plugins: { legend: { display: false }, tooltip: { enabled: false } },
      scales: {
        x: { display: false },
        y: {
          type: "linear", position: "right", min: low, max: high,
          grid: { display: false, drawTicks: false },
          border: { display: false },
          ticks: { padding: 20, labelOffset: box.shift, color: "#1c1c1c", font: { size: 23 }, autoSkip: false, callback: function (v) { return String(v); } },
          afterBuildTicks: function (s) { s.ticks = levels.map(function (v) { return { value: v }; }); },
          afterFit: function (s) { pinBox(s, "width", axisW); }
        }
      }
    }
  });
}

drawPanel("chartA", xsA, ysA, nuA, levelsA, xTicksA, yTicksA, { left: 124, right: 924, top: 36, bottom: 758, xMin: 0.27, xMax: 43.63, yMin: 0.19, yMax: 38.41, minorX: 2 });
drawPanel("chartB", xsB, ysB, nuB, levelsB, xTicksB, yTicksB, { left: 1283, right: 2085, top: 33, bottom: 759, xMin: 0.1, xMax: 43.63, yMin: 0.2, yMax: 39.46, minorX: 2 });
drawPanel("chartC", xsC, ysC, nuC, levelsC, xTicksC, yTicksC, { left: 122, right: 921, top: 1390, bottom: 2119, xMin: 0.25, xMax: 43.49, yMin: 0.24, yMax: 39.68, minorX: 2 });
drawPanel("chartD", xsD, ysD, nuD, levelsD, xTicksD, yTicksD, { left: 1279, right: 2078, top: 1386, bottom: 2115, xMin: 0.3, xMax: 51.3, yMin: 0.28, yMax: 46.76, minorX: 5 });

drawBar("barA", levelsA, 2, { left: 911, right: 946, top: 172, bottom: 609, shift: 7 });
drawBar("barB", levelsB, 2, { left: 2074, right: 2110, top: 145, bottom: 658, shift: 5 });
drawBar("barC", levelsC, 2.5, { left: 910, right: 947, top: 1438, bottom: 2094, shift: 5 });
drawBar("barD", levelsD, 1, { left: 2091, right: 2126, top: 1480, bottom: 1995, shift: 5 });
</script>
</body>
</html>
